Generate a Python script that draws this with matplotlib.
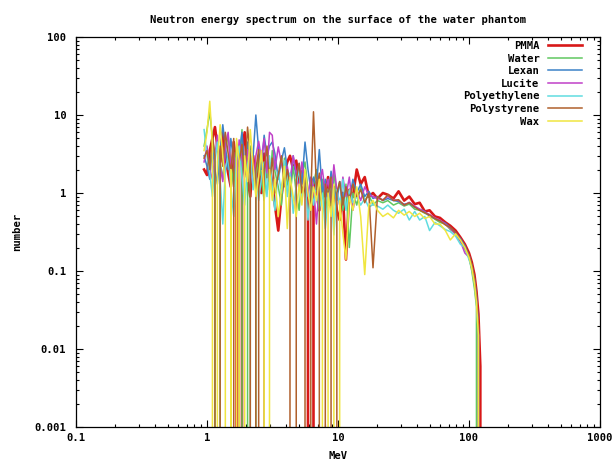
import matplotlib
matplotlib.use("Agg")
import matplotlib.pyplot as plt

plt.rcParams['font.family'] = ['DejaVu Sans Mono']
plt.rcParams['font.weight'] = 'bold'

energy = [0.95, 1.0, 1.05, 1.1, 1.15, 1.2, 1.26, 1.32, 1.38, 1.45,
          1.52, 1.6, 1.68, 1.76, 1.85, 1.94, 2.04, 2.14, 2.25, 2.36,
          2.48, 2.6, 2.73, 2.87, 3.0, 3.15, 3.3, 3.5, 3.7, 3.9,
          4.1, 4.3, 4.55, 4.8, 5.05, 5.3, 5.6, 5.9, 6.2, 6.5,
          6.85, 7.2, 7.6, 8.0, 8.4, 8.85, 9.3, 9.8, 10.3, 10.9,
          11.5, 12.2, 13.0, 13.9, 14.9, 16.0, 17.2, 18.5, 20, 22,
          24, 26.5, 29, 32, 35, 38.5, 42, 46, 50, 55,
          60, 66, 72, 79, 86, 93, 100, 105, 110, 114,
          118, 122, 126]

pmma = [2.0, 1.7, 3.5, 5.0, 7.0, 4.0, 2.5, 6.0, 3.0, 1.8,
        1.2, 4.5, 2.0, 0, 3.5, 6.0, 1.5, 0.9, 3.0, 1.4,
        2.2, 1.0, 3.2, 1.6, 2.4, 1.3, 0.7, 0.33, 0.9, 1.8,
        2.5, 3.0, 2.0, 2.6, 1.3, 1.9, 1.1, 0.8, 0, 1.5,
        1.0, 0.6, 1.4, 0.9, 1.6, 0.7, 1.2, 0.6, 0.45, 1.0,
        0.14, 1.1, 0.9, 2.0, 1.3, 1.6, 0.9, 1.0, 0.85, 1.0,
        0.95, 0.85, 1.05, 0.8, 0.9, 0.72, 0.75, 0.58, 0.6, 0.5,
        0.48, 0.42, 0.38, 0.33, 0.27, 0.22, 0.17, 0.13, 0.09, 0.055,
        0.028, 0.006, 0]

water = [4.0, 6.5, 11.0, 5.0, 3.0, 0, 2.5, 1.5, 3.5, 5.5,
         2.5, 1.2, 3.8, 2.2, 6.5, 0, 2.0, 4.0, 0, 1.5,
         3.0, 1.6, 0.8, 2.4, 1.1, 3.5, 1.9, 1.2, 0.7, 2.8,
         1.4, 0.9, 2.2, 1.0, 0.6, 1.7, 2.5, 1.1, 0.7, 1.3,
         2.0, 0.8, 1.5, 0.5, 1.1, 0.7, 1.8, 0.9, 1.4, 0.6,
         1.3, 0.2, 1.0, 0.7, 1.2, 0.8, 0.95, 0.7, 0.8, 0.75,
         0.8, 0.7, 0.75, 0.68, 0.72, 0.62, 0.6, 0.55, 0.52, 0.46,
         0.42, 0.4, 0.34, 0.3, 0.24, 0.19, 0.15, 0.1, 0.06, 0.035,
         0, 0, 0]

lexan = [3.0, 2.2, 1.5, 4.0, 2.0, 1.3, 3.5, 7.5, 4.0, 2.0,
         5.0, 2.5, 1.6, 3.0, 6.0, 2.2, 4.5, 1.8, 3.0, 10.0,
         3.5, 2.0, 5.5, 3.0, 4.0, 4.5, 3.2, 1.5, 2.6, 3.8,
         2.0, 1.2, 3.0, 1.6, 2.4, 1.3, 4.5, 2.0, 1.1, 1.6,
         1.2, 3.6, 1.0, 1.5, 0.7, 1.9, 1.1, 0.8, 1.4, 0.9,
         1.2, 0.8, 1.5, 1.0, 1.3, 0.9, 1.05, 0.85, 0.9, 0.8,
         0.85, 0.8, 0.78, 0.72, 0.74, 0.66, 0.62, 0.58, 0.5, 0.47,
         0.44, 0.41, 0.36, 0.31, 0.26, 0.21, 0.16, 0.12, 0.08, 0.05,
         0.02, 0, 0]

lucite = [2.5, 4.0, 2.0, 1.5, 3.0, 5.5, 2.2, 1.4, 3.8, 6.0,
          2.0, 3.3, 1.5, 4.8, 2.6, 1.7, 3.6, 2.1, 1.2, 3.0,
          4.6, 2.8, 5.0, 1.8, 6.0, 5.5, 2.0, 3.9, 2.4, 1.6,
          2.2, 1.4, 3.0, 1.8, 1.1, 2.5, 1.4, 0.9, 1.6, 1.2,
          0.4, 1.3, 2.0, 1.0, 1.5, 0.8, 2.3, 1.1, 0.7, 1.6,
          0.9, 1.6, 0.6, 1.1, 0.8, 1.2, 0.95, 0.9, 0.85, 0.82,
          0.9, 0.82, 0.8, 0.7, 0.76, 0.68, 0.62, 0.57, 0.53, 0.48,
          0.45, 0.4, 0.35, 0.3, 0.24, 0.17, 0.15, 0.11, 0.075, 0.045,
          0.018, 0, 0]

polyethylene = [6.5, 3.0, 1.8, 0.9, 2.5, 4.5, 1.5, 0.4, 2.0, 3.0,
                1.2, 0.5, 2.8, 4.0, 1.6, 0.7, 2.3, 3.5, 1.1, 2.0,
                0.8, 1.5, 2.5, 0.9, 3.0, 1.2, 0.6, 1.9, 1.0, 2.6,
                0.9, 1.8, 0.55, 1.3, 2.0, 0.8, 1.6, 0.45, 1.2, 0.7,
                1.4, 0.6, 1.0, 0.35, 0.9, 1.3, 0.29, 1.1, 0.7, 1.5,
                0.6, 1.1, 0.75, 0.9, 0.7, 0.85, 0.65, 0.72, 0.68, 0.62,
                0.7, 0.6, 0.55, 0.62, 0.45, 0.58, 0.45, 0.5, 0.33, 0.42,
                0.38, 0.34, 0.32, 0.28, 0.22, 0.2, 0.14, 0.11, 0.07, 0.04,
                0.015, 0, 0]

polystyrene = [2.8, 3.5, 2.0, 5.5, 3.0, 0, 4.0, 2.2, 6.0, 3.2,
               1.8, 5.0, 0, 2.5, 4.2, 1.6, 7.0, 3.0, 0, 2.0,
               3.6, 0, 2.0, 4.0, 1.4, 2.8, 1.0, 1.7, 3.0, 1.2,
               2.0, 1.3, 0, 1.5, 2.4, 1.0, 1.7, 0, 0.9, 11.0,
               1.1, 1.8, 0, 1.3, 0.9, 1.6, 0, 1.0, 1.4, 0.7,
               1.2, 0.8, 1.3, 0.9, 1.1, 0.75, 1.0, 0.11, 0.9, 0.8,
               0.95, 0.8, 0.82, 0.7, 0.75, 0.66, 0.6, 0.56, 0.52, 0.47,
               0.44, 0.39, 0.36, 0.31, 0.25, 0.2, 0.16, 0.12, 0.08, 0.045,
               0.02, 0, 0]

wax = [3.5, 6.0, 15.0, 4.0, 0, 2.5, 7.5, 3.0, 1.2, 0,
       2.0, 0, 5.0, 2.6, 0, 3.0, 1.4, 6.5, 2.2, 0.9,
       1.6, 3.5, 1.0, 0, 2.0, 0.8, 1.5, 0.5, 1.1, 2.2,
       0.35, 1.6, 0.9, 0.5, 1.3, 0.7, 2.0, 1.0, 0.6, 1.2,
       0.8, 1.5, 0.6, 0, 1.0, 0.5, 1.3, 0, 0.8, 0.3,
       0.14, 0.9, 0.6, 1.2, 0.5, 0.09, 0.7, 0.8, 0.6, 0.5,
       0.55, 0.48, 0.6, 0.52, 0.58, 0.5, 0.55, 0.47, 0.5, 0.4,
       0.4, 0.33, 0.25, 0.3, 0.25, 0.2, 0.15, 0.11, 0.07, 0.04,
       0.015, 0, 0]

series_names = ["PMMA", "Water", "Lexan", "Lucite", "Polyethylene", "Polystyrene", "Wax"]
series_values = [pmma, water, lexan, lucite, polyethylene, polystyrene, wax]
colors = ["#d81818", "#60c860", "#3c82c8", "#c040c8", "#60dce0", "#b0602c", "#f0e640"]
widths = [1.9, 1.1, 1.1, 1.1, 1.1, 1.1, 1.1]

fig = plt.figure(figsize=(6.15, 4.63), dpi=100)
L, R, T, B = 76, 600, 37, 427
ax = fig.add_axes([L / 615, (463 - B) / 463, (R - L) / 615, (B - T) / 463])

for name, vals, c, w in zip(series_names, series_values, colors, widths):
    ax.plot(energy, vals, color=c, lw=w, label=name)

ax.set_xscale("log")
ax.set_yscale("log", nonpositive="clip")
ax.set_xlim(0.1, 1000)
ax.set_ylim(0.001, 100)

xt = [0.1, 1, 10, 100, 1000]
ax.set_xticks(xt)
ax.set_xticklabels(["0.1", "1", "10", "100", "1000"])
yt = [0.001, 0.01, 0.1, 1, 10, 100]
ax.set_yticks(yt)
ax.set_yticklabels(["0.001", "0.01", "0.1", "1", "10", "100"])

fs = 7.6
ax.tick_params(which="both", direction="in", top=True, right=True, labelsize=fs, width=0.8)
ax.tick_params(which="major", length=5)
ax.tick_params(which="minor", length=2.5)
ax.tick_params(axis="y", which="major", pad=7)
ax.tick_params(axis="x", which="major", pad=4)
for sp in ax.spines.values():
    sp.set_linewidth(0.9)

ax.set_title("Neutron energy spectrum on the surface of the water phantom",
             fontsize=fs, fontweight="bold", pad=10)
ax.set_xlabel("MeV", fontsize=fs, fontweight="bold", labelpad=6)
ax.set_ylabel("number", fontsize=fs, fontweight="bold", labelpad=9)

leg = ax.legend(loc="upper right", bbox_to_anchor=(0.965, 0.99), frameon=False,
                markerfirst=False, fontsize=fs, handlelength=3.2, handletextpad=0.8,
                labelspacing=0.25, borderaxespad=0, borderpad=0)

fig.savefig("out.png", dpi=100)
